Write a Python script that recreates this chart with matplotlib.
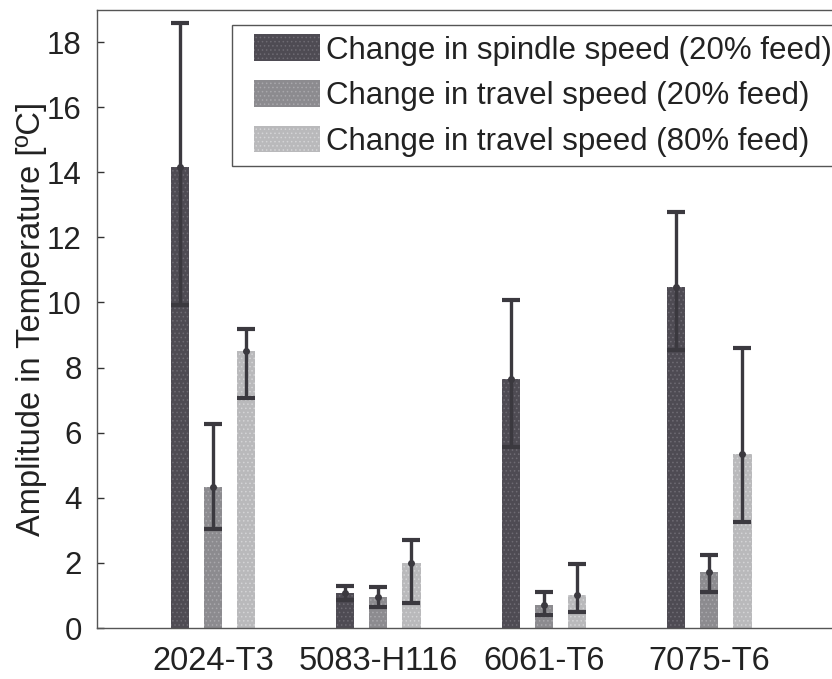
import matplotlib
matplotlib.use("Agg")
import matplotlib.pyplot as plt
from matplotlib.patches import Rectangle
from matplotlib.legend_handler import HandlerPatch
import numpy as np

plt.rcParams['font.family'] = ['Liberation Sans', 'DejaVu Sans']
plt.rcParams['hatch.linewidth'] = 0.6

materials = ["2024-T3", "5083-H116", "6061-T6", "7075-T6"]
series_labels = ["Change in spindle speed (20% feed) ",
                 "Change in travel speed (20% feed)",
                 "Change in travel speed (80% feed)"]

spindle_20 = [14.15, 1.07, 7.65, 10.47]
spindle_20_low = [9.92, 0.85, 5.57, 8.54]
spindle_20_high = [18.59, 1.29, 10.07, 12.79]

travel_20 = [4.33, 0.96, 0.71, 1.73]
travel_20_low = [3.04, 0.65, 0.40, 1.11]
travel_20_high = [6.27, 1.25, 1.12, 2.24]

travel_80 = [8.51, 1.99, 1.01, 5.36]
travel_80_low = [7.06, 0.78, 0.50, 3.27]
travel_80_high = [9.18, 2.70, 1.97, 8.59]

yticks = [0, 2, 4, 6, 8, 10, 12, 14, 16, 18]

face_colors = ["#4e4b53", "#8c8b8f", "#b9b9bb"]
hatch_colors = ["#6e6b73", "#a9a8ac", "#d4d4d6"]
err_color = "#3b393f"

fig = plt.figure(figsize=(8.32, 6.79), dpi=100)
W, H = 832, 679
left_px, right_px, top_px, bottom_px = 97, 833.5, 9.5, 628
ax = fig.add_axes([left_px / W, 1 - bottom_px / H,
                   (right_px - left_px) / W, (bottom_px - top_px) / H])

x = np.arange(1, len(materials) + 1)
offsets = [-0.2, 0.0, 0.2]
width = 0.11
data = [(spindle_20, spindle_20_low, spindle_20_high),
        (travel_20, travel_20_low, travel_20_high),
        (travel_80, travel_80_low, travel_80_high)]

handles = []
for i, (vals, lo, hi) in enumerate(data):
    vals = np.array(vals); lo = np.array(lo); hi = np.array(hi)
    b = ax.bar(x + offsets[i], vals, width, color=face_colors[i],
               edgecolor=hatch_colors[i], linewidth=0, hatch='....', zorder=2)
    handles.append(b.patches[0])
    ax.errorbar(x + offsets[i], vals, yerr=[vals - lo, hi - vals], fmt='o',
                markersize=4, color=err_color, ecolor=err_color,
                elinewidth=2.4, capsize=6.5, capthick=3, zorder=3)

ax.set_xlim(0.3, 4.75)
ax.set_ylim(0, 19)
ax.set_yticks(yticks)
ax.set_xticks(x)
ax.set_xticklabels(materials)
ax.tick_params(axis='y', direction='in', length=5, width=1, labelsize=22.5,
               pad=11, colors='#333333', labelcolor='#222222')
ax.tick_params(axis='x', direction='in', length=0, labelsize=23.5, pad=13,
               labelcolor='#222222')
ax.set_ylabel("Amplitude in Temperature [ºC]", fontsize=23.5, color='#222222',
              labelpad=0)
for s in ax.spines.values():
    s.set_color('#555555')
    s.set_linewidth(1.0)

leg_fs = 22.5
inset_px = 9


def inset_patch(legend, orig_handle, xdescent, ydescent, width, height, fontsize):
    return Rectangle((-xdescent + inset_px, -ydescent), width - inset_px, height)


leg = ax.legend(handles, series_labels, loc='upper left',
                bbox_to_anchor=(0.183, 0.975), borderaxespad=0,
                fontsize=leg_fs, frameon=True, fancybox=False, framealpha=1,
                edgecolor='#555555', handlelength=(70 + inset_px) / (leg_fs * 100 / 72),
                handleheight=0.95, handletextpad=0.2, labelspacing=0.46,
                borderpad=0.3,
                handler_map={Rectangle: HandlerPatch(patch_func=inset_patch)})
leg.get_frame().set_linewidth(1.0)
for t in leg.get_texts():
    t.set_color('#222222')

fig.savefig("out.png", dpi=100)
